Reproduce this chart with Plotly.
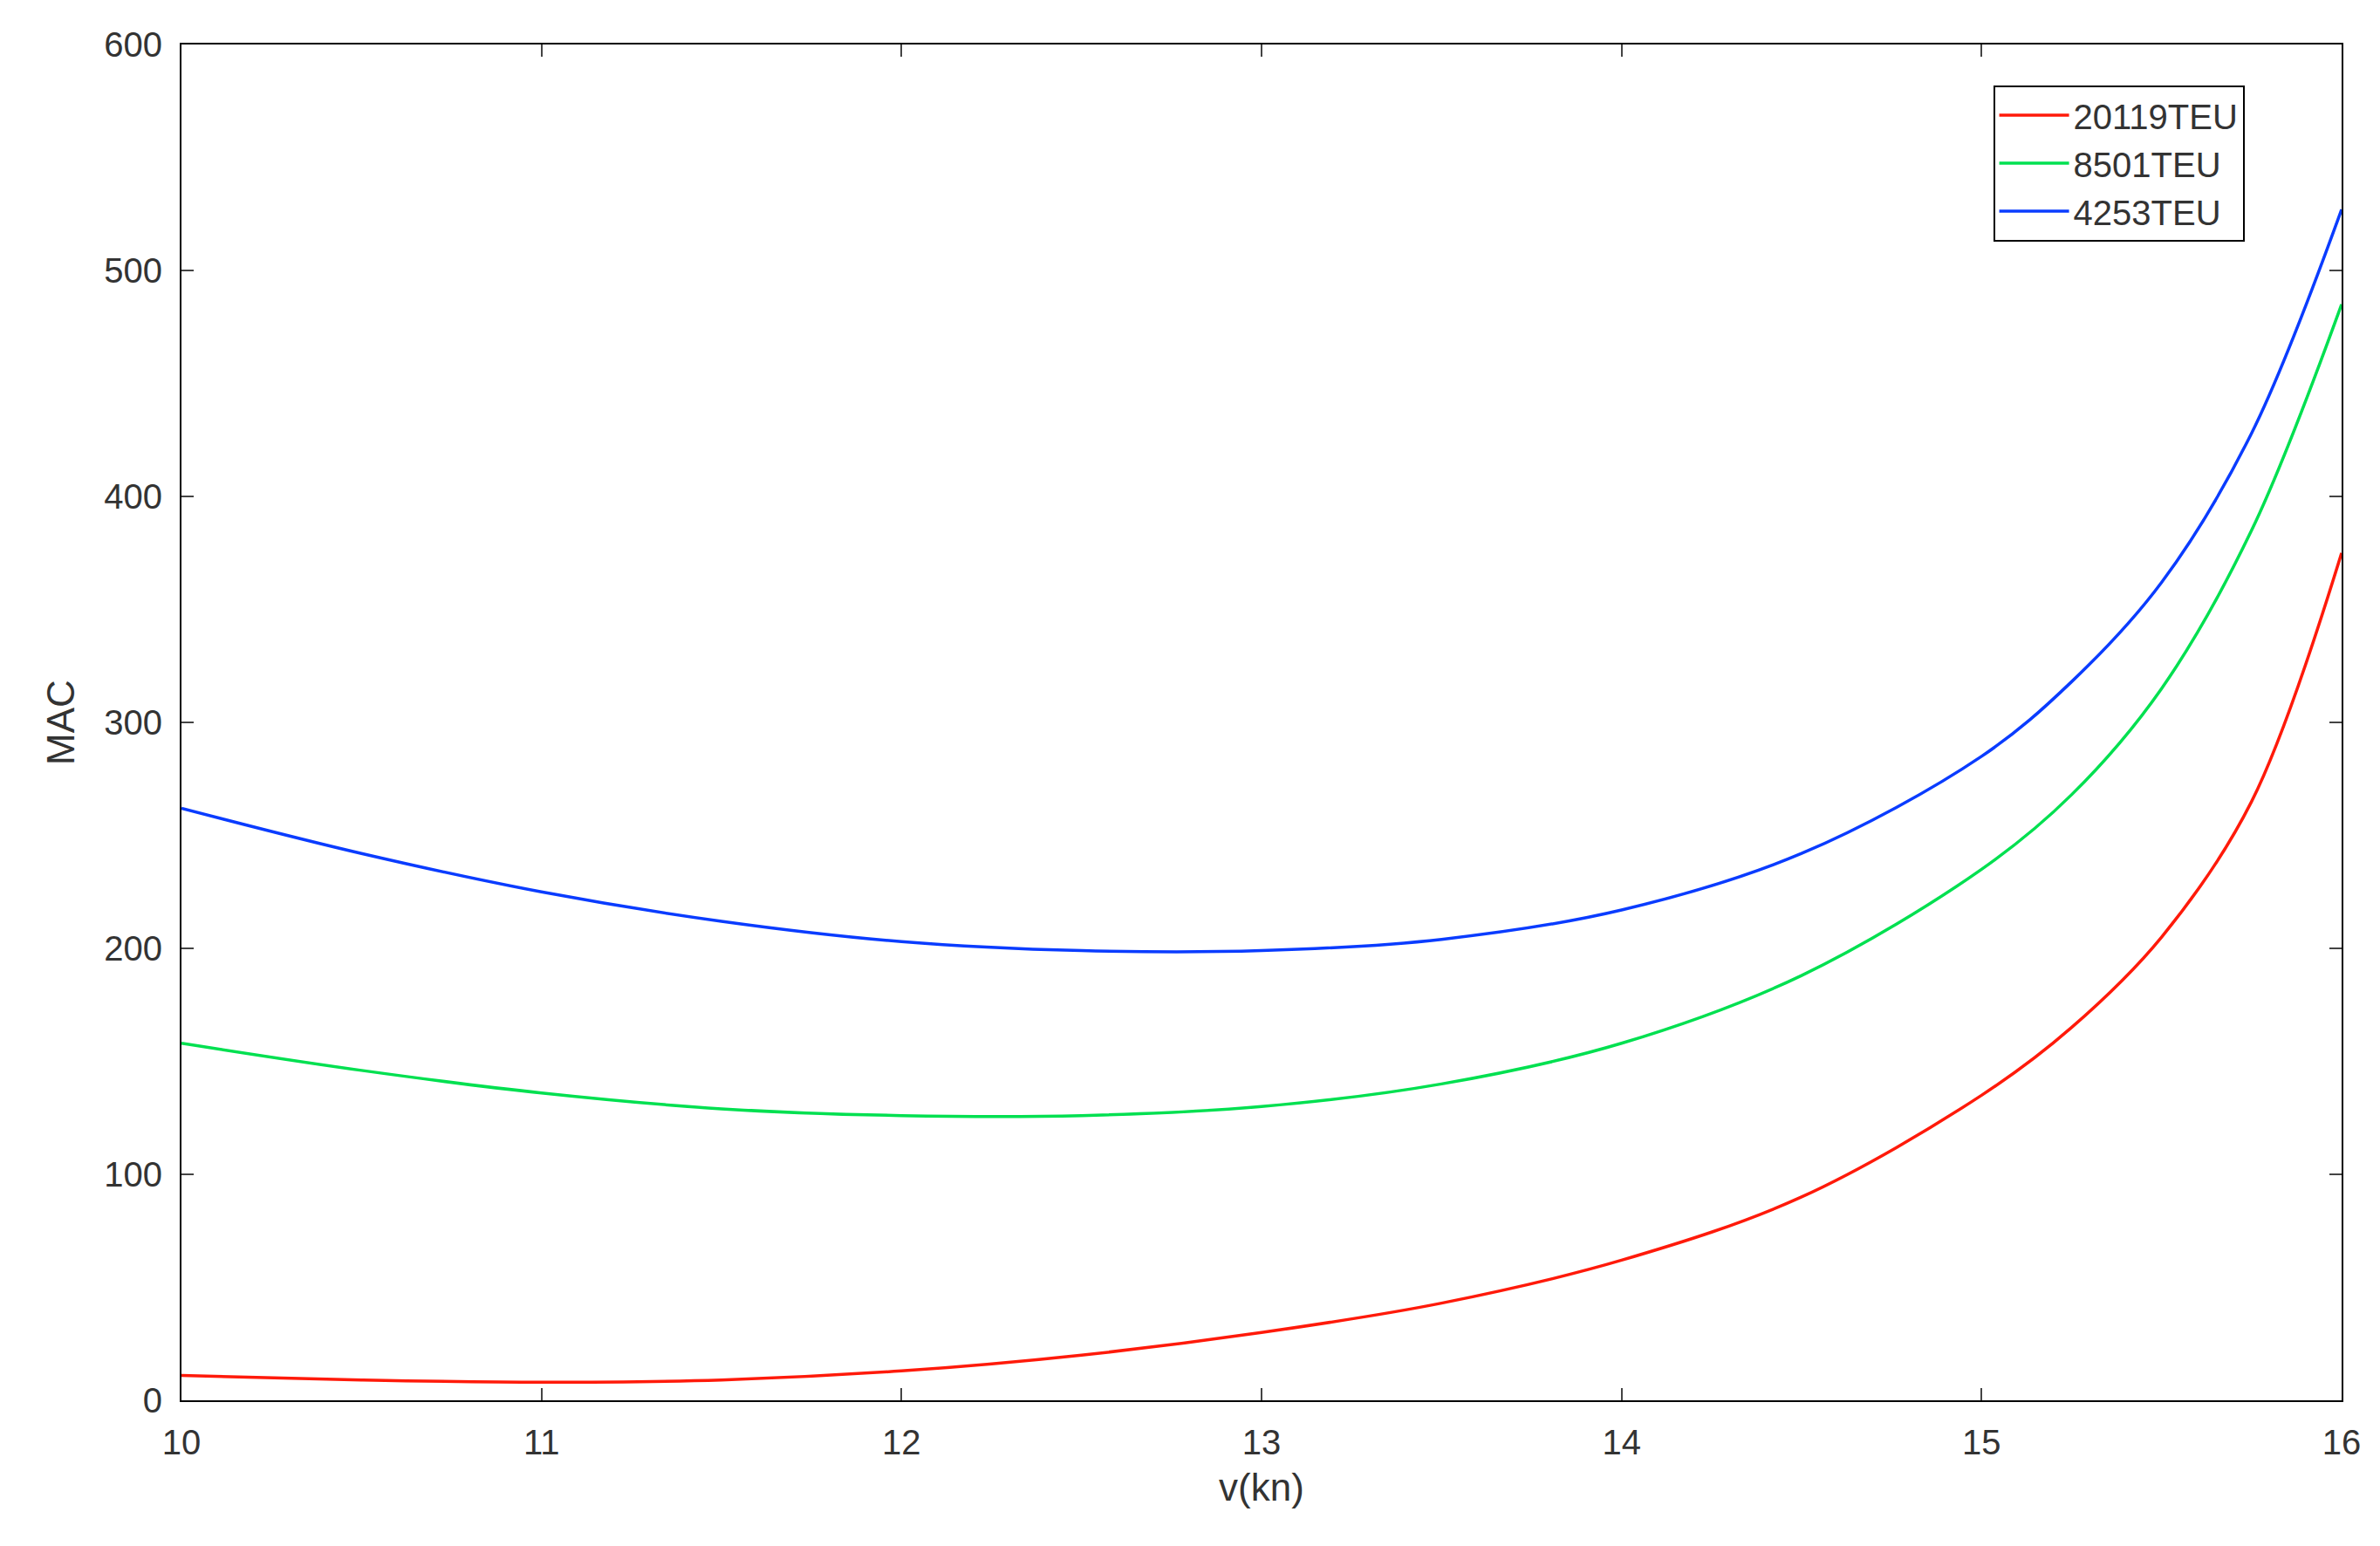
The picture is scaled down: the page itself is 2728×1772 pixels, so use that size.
import plotly.graph_objs as go

v = [10, 10.5, 11, 11.5, 12, 12.5, 13, 13.5, 14, 14.5, 15, 15.25, 15.5, 15.75, 16]
mac_20119 = [11, 9, 8, 9, 13, 20, 30, 43, 62, 90, 135, 165, 205, 265, 375]
mac_8501 = [158, 146, 136, 129, 126, 126, 130, 140, 158, 188, 235, 268, 315, 385, 485]
mac_4253 = [262, 242, 225, 212, 203, 199, 199, 204, 217, 242, 285, 318, 362, 428, 527]

fig = go.Figure()
for name, y, c in [("20119TEU", mac_20119, "#ff1a0a"),
                   ("8501TEU", mac_8501, "#00e050"),
                   ("4253TEU", mac_4253, "#0a3cff")]:
    fig.add_trace(go.Scatter(x=v, y=y, name=name, mode="lines",
                             line=dict(color=c, width=3.5, shape="spline")))

ax = dict(showline=True, linecolor="black", linewidth=2, mirror="ticks",
          ticks="inside", ticklen=14, tickwidth=2, showgrid=False, zeroline=False,
          ticklabelstandoff=12, tickfont=dict(size=40, color="#333"))
fig.update_xaxes(ax, range=[10, 16], dtick=1,
                 title=dict(text="v(kn)", font=dict(size=44, color="#333"), standoff=15))
fig.update_yaxes(ax, range=[0, 600], dtick=100,
                 title=dict(text="MAC", font=dict(size=44, color="#333"), standoff=20))
fig.update_layout(
    width=2728, height=1772, template="simple_white",
    font=dict(family="Liberation Sans, Arial", color="#333"),
    margin=dict(l=200, r=52, t=43, b=175),
    legend=dict(x=0.955, y=0.97, xanchor="right", yanchor="top",
                bordercolor="black", borderwidth=2, font=dict(size=40),
                bgcolor="white", tracegroupgap=0, itemwidth=80, entrywidth=300),
)
fig.write_html("out.html")
